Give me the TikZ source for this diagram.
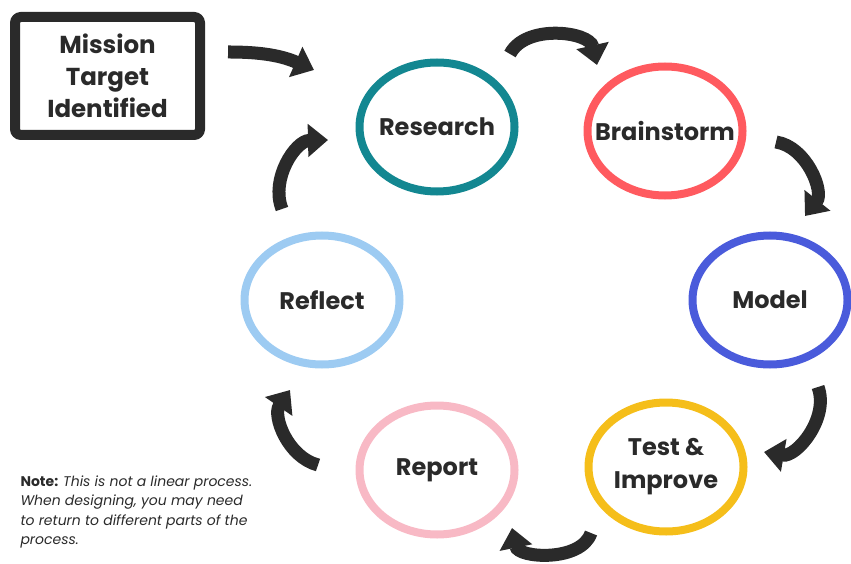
\documentclass[tikz,border=0pt]{standalone}
\usepackage{fontspec}
\setmainfont{Poppins}
\usetikzlibrary{arrows.meta,positioning}
\definecolor{ink}{HTML}{2A2A2A}
\definecolor{cteal}{HTML}{138791}
\definecolor{cred}{HTML}{FF5A5F}
\definecolor{cblue}{HTML}{4A5BDB}
\definecolor{cyellow}{HTML}{F5BE1A}
\definecolor{cpink}{HTML}{F8B9C5}
\definecolor{csky}{HTML}{9DCBF2}
\tikzset{>=latex}
\tikzset{stage/.style={inner sep=0pt, align=center, text=ink, font=\bfseries\fontsize{24}{33}\selectfont}}
\tikzset{ring/.style={draw=#1, line width=8pt}}
\tikzset{flow/.style={draw=ink, line width=13pt, bend left=#1,
    -{Triangle[width=32pt,length=20pt]}}}

\begin{document}
\begin{tikzpicture}[x=1pt,y=-1pt]
      \useasboundingbox (0,0) rectangle (851,564);
      \node[draw=ink, line width=10pt, rounded corners=6pt, minimum width=185pt, minimum height=118pt,
        align=center, text=ink, font=\bfseries\fontsize{24.5}{32}\selectfont] (mission) at (107.5,76)
        {Mission\\Target\\Identified};
      \node[stage] (research) at (437,127) {Research};
      \node[stage] (brainstorm) at (665,131) {Brainstorm};
      \node[stage] (model) at (770,300) {Model};
      \node[stage] (test) at (666,467) {Test \&\\Improve};
      \node[stage] (report) at (437,470) {Report};
      \node[stage] (reflect) at (322,300) {Reflect};
      \foreach \n/\c in {research/cteal, brainstorm/cred, model/cblue, test/cyellow, report/cpink, reflect/csky}
        \draw[ring=\c] (\n.center) ellipse [x radius=77.5, y radius=64.5];
      % arrow ends
      \coordinate (m1) at (228,52);   \coordinate (m2) at (314,70);
      \coordinate (r1) at (510,54);   \coordinate (r2) at (597,65);
      \coordinate (b1) at (776,142);  \coordinate (b2) at (805,216);
      \coordinate (d1) at (818,387);  \coordinate (d2) at (764,452);
      \coordinate (t1) at (591,533);  \coordinate (t2) at (512,528);
      \coordinate (p1) at (318,465);  \coordinate (p2) at (290,390);
      \coordinate (f1) at (282,209);  \coordinate (f2) at (328,140);
      \draw[flow=12] (m1) to (m2);
      \draw[flow=70] (r1) to (r2);
      \draw[flow=60] (b1) to (b2);
      \draw[flow=60] (d1) to (d2);
      \draw[flow=75] (t1) to (t2);
      \draw[flow=55] (p1) to (p2);
      \draw[flow=55] (f1) to (f2);
      \node[anchor=north west, align=left, text=ink, font=\fontsize{14}{19.5}\selectfont] (note) at (17,472)
        {\textbf{Note:} \textit{This is not a linear process.}\\
         \textit{When designing, you may need}\\
         \textit{to return to different parts of the}\\
         \textit{process.}};
\end{tikzpicture}
\end{document}
